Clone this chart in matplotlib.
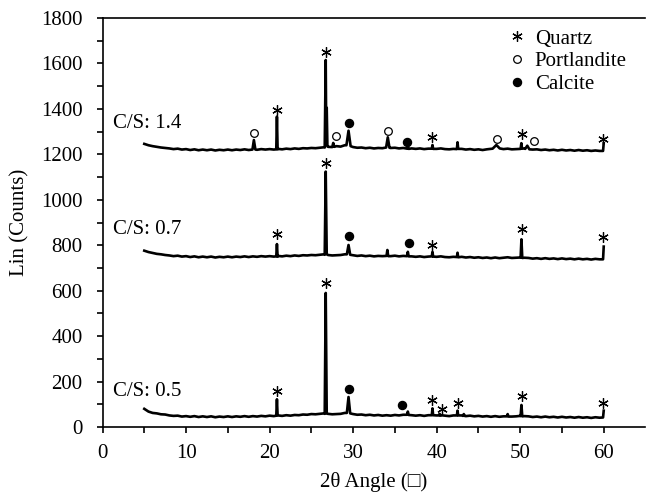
import numpy as np
import matplotlib
matplotlib.use("Agg")
import matplotlib.pyplot as plt
from matplotlib.lines import Line2D

plt.rcParams['font.family'] = ['Liberation Serif', 'DejaVu Sans']

# baseline counts, read every 0.5 deg from 5.0 to 59.5
angle_base = np.arange(5.0, 59.75, 0.5)

base_05 = [80, 68, 62, 60, 56, 55, 51, 49, 50, 46,
           48, 45, 48, 44, 47, 44, 47, 43, 46, 44,
           47, 44, 47, 45, 48, 45, 48, 46, 49, 47,
           50, 48, 51, 49, 52, 50, 53, 52, 55, 54,
           57, 56, 58, 60, 58, 56, 57, 58, 62, 64,
           57, 54, 55, 52, 54, 51, 53, 50, 52, 50,
           53, 51, 54, 55, 52, 50, 52, 49, 52, 54,
           51, 52, 50, 48, 51, 53, 51, 48, 50, 47,
           49, 46, 48, 45, 48, 45, 47, 50, 46, 47,
           49, 48, 47, 44, 46, 43, 46, 43, 45, 42,
           45, 42, 44, 41, 44, 41, 43, 40, 43, 41]

base_07 = [776, 770, 766, 762, 760, 757, 755, 752, 754, 750,
           752, 748, 751, 747, 750, 747, 750, 746, 749, 747,
           750, 747, 750, 748, 751, 748, 751, 749, 752, 750,
           752, 750, 753, 751, 754, 752, 755, 753, 756, 755,
           757, 756, 758, 760, 757, 755, 756, 757, 760, 762,
           756, 753, 755, 752, 754, 751, 753, 752, 755, 752,
           754, 751, 753, 754, 751, 749, 751, 748, 750, 752,
           749, 751, 748, 747, 749, 751, 749, 746, 748, 745,
           747, 744, 746, 743, 746, 743, 745, 747, 744, 745,
           746, 745, 744, 741, 743, 740, 743, 740, 742, 739,
           742, 739, 741, 738, 741, 738, 740, 737, 740, 738]

base_14 = [1246, 1240, 1236, 1233, 1230, 1228, 1226, 1223, 1225, 1221,
           1223, 1219, 1222, 1218, 1221, 1218, 1221, 1217, 1220, 1218,
           1221, 1218, 1221, 1219, 1222, 1219, 1222, 1220, 1223, 1221,
           1223, 1221, 1224, 1222, 1225, 1223, 1226, 1224, 1227, 1226,
           1228, 1227, 1229, 1231, 1233, 1232, 1236, 1234, 1240, 1242,
           1232, 1229, 1230, 1227, 1229, 1226, 1228, 1227, 1231, 1228,
           1229, 1226, 1228, 1230, 1226, 1224, 1226, 1223, 1225, 1227,
           1224, 1226, 1223, 1222, 1224, 1226, 1224, 1221, 1223, 1220,
           1222, 1219, 1222, 1224, 1230, 1226, 1223, 1225, 1222, 1223,
           1224, 1226, 1225, 1221, 1222, 1219, 1221, 1218, 1220, 1217,
           1220, 1217, 1219, 1216, 1219, 1216, 1218, 1215, 1217, 1215]

# peaks (angle, counts) with their feet
peaks_05 = [
    [(20.80, 50), (20.88, 122), (20.96, 51)],
    [(26.60, 58), (26.72, 590), (26.84, 59)],
    [(29.25, 62), (29.45, 132), (29.65, 60)],
    [(36.45, 54), (36.55, 68), (36.65, 53)],
    [(39.42, 52), (39.50, 82), (39.58, 52)],
    [(40.25, 51), (40.35, 58), (40.45, 50)],
    [(42.42, 51), (42.50, 72), (42.58, 51)],
    [(43.15, 49), (43.25, 57), (43.35, 49)],
    [(48.40, 47), (48.50, 57), (48.60, 46)],
    [(50.05, 48), (50.15, 97), (50.25, 47)],
    [(59.92, 42), (60.00, 72)],
]

peaks_07 = [
    [(20.80, 751), (20.88, 805), (20.96, 750)],
    [(26.60, 758), (26.72, 1124), (26.84, 760)],
    [(29.25, 760), (29.45, 801), (29.65, 758)],
    [(34.00, 753), (34.10, 779), (34.20, 752)],
    [(36.45, 752), (36.55, 771), (36.65, 751)],
    [(39.42, 751), (39.50, 771), (39.58, 750)],
    [(42.42, 748), (42.50, 767), (42.58, 747)],
    [(50.05, 745), (50.15, 826), (50.25, 744)],
    [(59.92, 738), (60.00, 794)],
]

peaks_14 = [
    [(17.95, 1221), (18.12, 1263), (18.30, 1221)],
    [(20.80, 1222), (20.88, 1366), (20.96, 1222)],
    [(26.60, 1230), (26.72, 1615), (26.78, 1290), (26.84, 1405), (26.92, 1235)],
    [(27.50, 1232), (27.62, 1250), (27.75, 1233)],
    [(29.20, 1240), (29.45, 1304), (29.70, 1236)],
    [(33.95, 1230), (34.15, 1275), (34.35, 1229)],
    [(36.45, 1225), (36.55, 1240), (36.65, 1224)],
    [(39.42, 1225), (39.50, 1241), (39.58, 1224)],
    [(42.42, 1223), (42.50, 1253), (42.58, 1224)],
    [(46.70, 1225), (47.15, 1241), (47.55, 1226)],
    [(50.05, 1224), (50.14, 1249), (50.22, 1225)],
    [(50.60, 1224), (50.85, 1238), (51.10, 1222)],
    [(59.92, 1215), (60.00, 1249)],
]

# phase markers (angle, counts)
quartz = [(20.9, 1395), (26.7, 1652), (39.5, 1278), (50.2, 1290), (59.95, 1266),
          (20.9, 848), (26.7, 1160), (39.5, 801), (50.2, 870), (59.95, 838),
          (20.9, 160), (26.7, 634), (39.5, 119), (40.6, 80), (42.5, 107),
          (50.2, 136), (59.95, 105)]
portlandite = [(18.15, 1293), (28.0, 1281), (34.2, 1304), (47.2, 1266), (51.6, 1260)]
calcite = [(29.5, 1339), (36.5, 1256), (29.5, 842), (36.7, 808), (29.5, 167), (35.9, 97)]

labels = ['C/S: 1.4', 'C/S: 0.7', 'C/S: 0.5']
label_y = [1335, 868, 158]


def build_trace(base, peaks):
    x = np.array(angle_base)
    y = np.array(base, dtype=float)
    keep = np.ones(len(x), dtype=bool)
    for grp in peaks:
        lo = grp[0][0]
        hi = grp[-1][0]
        keep &= ~((x >= lo) & (x <= hi))
    px = [p[0] for grp in peaks for p in grp]
    py = [p[1] for grp in peaks for p in grp]
    x = np.concatenate([x[keep], px])
    y = np.concatenate([y[keep], py])
    order = np.argsort(x, kind='stable')
    return x[order], y[order]


fig = plt.figure(figsize=(6.46, 4.97), dpi=100)
ax = fig.add_axes([0.1587, 0.1408, 0.8405, 0.823])

for base, peaks in [(base_14, peaks_14), (base_07, peaks_07), (base_05, peaks_05)]:
    x, y = build_trace(base, peaks)
    ax.plot(x, y, color='black', lw=1.9)

ast = (6, 2, 0)
ax.plot([q[0] for q in quartz], [q[1] for q in quartz], ls='none',
        marker=ast, ms=7.5, mew=0.9, color='black')
ax.plot([p[0] for p in portlandite], [p[1] for p in portlandite], ls='none',
        marker='o', ms=5.5, mew=0.9, mfc='white', mec='black')
ax.plot([c[0] for c in calcite], [c[1] for c in calcite], ls='none',
        marker='o', ms=5.8, color='black')

for lab, yy in zip(labels, label_y):
    ax.text(1.3, yy, lab, fontsize=15, ha='left', va='center')

handles = [Line2D([], [], ls='none', marker=ast, ms=7.5, mew=0.9, color='black'),
           Line2D([], [], ls='none', marker='o', ms=5.5, mew=0.9, mfc='white', mec='black'),
           Line2D([], [], ls='none', marker='o', ms=5.8, color='black')]
ax.legend(handles, ['Quartz', 'Portlandite', 'Calcite'], loc='upper left',
          bbox_to_anchor=(0.748, 0.973), frameon=False, fontsize=15,
          handlelength=0.8, handletextpad=0.45, labelspacing=0.15,
          borderpad=0, borderaxespad=0)

ax.set_xlim(0, 65)
ax.set_ylim(0, 1800)
ax.set_xticks(np.arange(0, 61, 10))
ax.set_xticks(np.arange(5, 65, 10), minor=True)
ax.set_yticks(np.arange(0, 1801, 200))
ax.set_yticks(np.arange(100, 1800, 200), minor=True)
ax.tick_params(which='both', direction='out', length=4.5, width=1.2, labelsize=15)
ax.tick_params(axis='y', which='both', pad=10)
ax.tick_params(axis='x', which='both', pad=8)
for s in ['left', 'bottom', 'top']:
    ax.spines[s].set_linewidth(1.2)
ax.spines['right'].set_visible(False)

ax.set_ylabel('Lin (Counts)', fontsize=15, labelpad=8)
ax.set_xlabel('2θ Angle (□)', fontsize=15, labelpad=6)

fig.savefig('out.png', dpi=100)
